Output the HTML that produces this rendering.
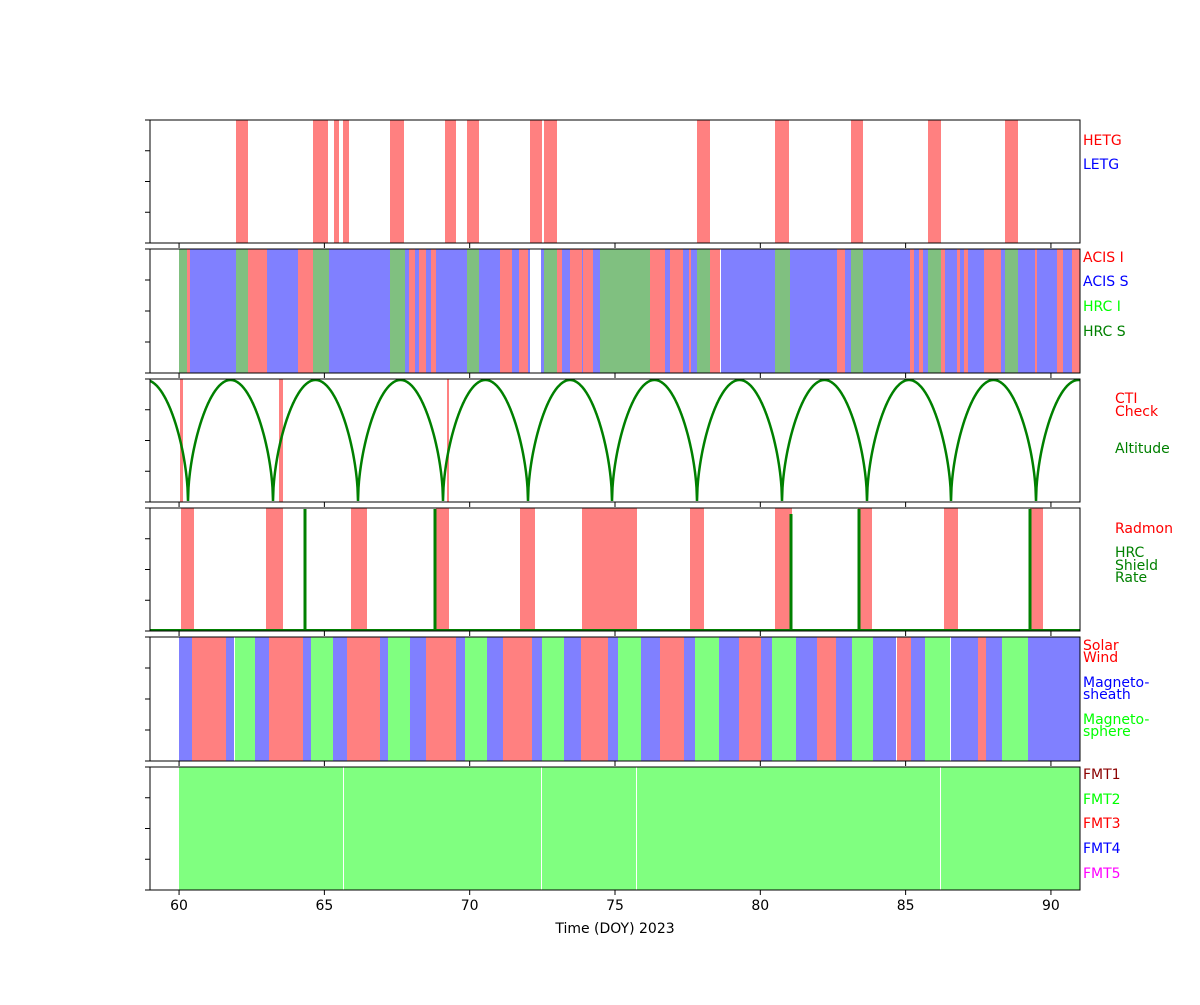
<!DOCTYPE html>
<html><head><meta charset="utf-8"><style>
body{margin:0;background:#fff}
text{font-family:"DejaVu Sans","Liberation Sans",sans-serif;font-size:14px}
</style></head><body>
<svg id="s" width="1200" height="1000" xmlns="http://www.w3.org/2000/svg"></svg>
<script>
const s=document.getElementById('s');let h='';
const P=[[120,243],[249,373],[379,502],[508,631],[637,761],[767,890]];
const R='#ff8080',B='#8080ff',G='#80c080',LG='#80ff80';
function rect(x1,x2,p,c){h+=`<rect x="${x1}" y="${P[p][0]}" width="${x2-x1}" height="${P[p][1]-P[p][0]}" fill="${c}"/>`;}
// panel1
[[236,248],[313,328],[334,339],[343,349],[390,404],[445,456],[467,479],[530,542],[544,557],[697,710],[775,789],[851,863],[928,941],[1005,1018]].forEach(a=>rect(a[0],a[1],0,R));
// panel2
const p2=[[179,187,G],[187,190,R],[190,236,B],[236,248,G],[248,267,R],[267,298,B],[298,313,R],[313,329,G],[329,390,B],[390,405,G],[405,409,B],[409,415,R],[415,419,B],[419,426,R],[426,431,B],[431,436,R],[436,467,B],[467,479,G],[479,500,B],[500,512,R],[512,519,B],[519,528,R],[528,530,B],[541,544,B],[544,557,G],[557,562,R],[562,570,B],[570,582,R],[582,583,B],[583,593,R],[593,600,B],[600,650,G],[650,665,R],[665,670,B],[670,683,R],[683,689,B],[689,691,R],[691,697,B],[697,710,G],[710,720,R],[721,775,B],[775,790,G],[790,837,B],[837,845,R],[845,851,B],[851,863,G],[863,910,B],[910,914,R],[914,919,B],[919,923,R],[923,928,B],[928,941,G],[941,945,R],[945,957,B],[957,960,R],[960,964,B],[964,968,R],[968,984,B],[984,1001,R],[1001,1005,B],[1005,1018,G],[1018,1035,B],[1035,1037,R],[1037,1057,B],[1057,1063,R],[1063,1072,B],[1072,1080,R]];
p2.forEach(a=>rect(a[0],a[1],1,a[2]));
// panel3
[[180,183],[279,283],[447,449]].forEach(a=>rect(a[0],a[1],2,R));
const z=[103,188,273,358,443,528,612,697,782,867,951,1036,1121];let d='';
for(let x=150;x<=1080;x+=0.5){let i=0;while(z[i+1]<x)i++;const t=(x-z[i])/(z[i+1]-z[i]);const y=501-121*Math.pow(Math.sin(Math.PI*t),0.55);d+=(d?'L':'M')+x+','+y.toFixed(1);}
h+=`<path d="${d}" fill="none" stroke="#008000" stroke-width="2.5"/>`;
// panel4
[[181,194],[266,283],[351,367],[436,449],[520,535],[582,637],[690,704],[775,792],[858,872],[944,958],[1030,1043]].forEach(a=>rect(a[0],a[1],3,R));
h+=`<line x1="150" y1="630" x2="1080" y2="630" stroke="#008000" stroke-width="2"/>`;
[[305,509],[435,509],[791,514],[859,509],[1030,509]].forEach(a=>h+=`<line x1="${a[0]}" y1="${a[1]}" x2="${a[0]}" y2="631" stroke="#008000" stroke-width="3"/>`);
// panel5
const p5=[[179,192,B],[192,226,R],[226,234,B],[235,255,LG],[255,269,B],[269,303,R],[303,311,B],[311,333,LG],[333,347,B],[347,380,R],[380,388,B],[388,410,LG],[410,426,B],[426,456,R],[456,465,B],[465,487,LG],[487,503,B],[503,532,R],[532,542,B],[542,564,LG],[564,581,B],[581,608,R],[608,618,B],[618,641,LG],[641,660,B],[660,684,R],[684,695,B],[695,719,LG],[719,739,B],[739,761,R],[761,772,B],[772,796,LG],[796,817,B],[817,836,R],[836,852,B],[852,873,LG],[873,896,B],[897,911,R],[911,925,B],[925,950,LG],[951,978,B],[978,986,R],[986,1002,B],[1002,1028,LG],[1028,1080,B]];
p5.forEach(a=>rect(a[0],a[1],4,a[2]));
// panel6
[[179,343],[344,541],[542,636],[637,940],[941,1080]].forEach(a=>rect(a[0],a[1],5,LG));
// frames & ticks
const xt=[60,65,70,75,80,85,90];const X=v=>150+(v-59)*930/32;
P.forEach(p=>{h+=`<rect x="150" y="${p[0]}" width="930" height="${p[1]-p[0]}" fill="none" stroke="#000" stroke-width="1"/>`;
for(let k=0;k<5;k++){const y=p[0]+(p[1]-p[0])*k/4;h+=`<line x1="145" y1="${y}" x2="150" y2="${y}" stroke="#000"/>`;}
xt.forEach(v=>h+=`<line x1="${X(v)}" y1="${p[1]}" x2="${X(v)}" y2="${p[1]+5}" stroke="#000"/>`);});
xt.forEach(v=>h+=`<text x="${X(v)}" y="910" text-anchor="middle" fill="#000">${v}</text>`);
h+=`<text x="615" y="933" text-anchor="middle">Time (DOY) 2023</text>`;
const L=[[1083,145,'HETG','red'],[1083,169,'LETG','blue'],[1083,262,'ACIS I','red'],[1083,286,'ACIS S','blue'],[1083,311,'HRC I','#00ff00'],[1083,336,'HRC S','green'],
[1115,403,'CTI','red'],[1115,416,'Check','red'],[1115,453,'Altitude','green'],[1115,533,'Radmon','red'],[1115,557,'HRC','green'],[1115,570,'Shield','green'],[1115,582,'Rate','green'],
[1083,650,'Solar','red'],[1083,662,'Wind','red'],[1083,687,'Magneto-','blue'],[1083,699,'sheath','blue'],[1083,724,'Magneto-','#00ff00'],[1083,736,'sphere','#00ff00'],
[1083,779,'FMT1','darkred'],[1083,804,'FMT2','#00ff00'],[1083,828,'FMT3','red'],[1083,853,'FMT4','blue'],[1083,878,'FMT5','magenta']];
L.forEach(a=>h+=`<text x="${a[0]}" y="${a[1]}" fill="${a[3]}">${a[2]}</text>`);
s.innerHTML=h;
</script>
</body></html>
